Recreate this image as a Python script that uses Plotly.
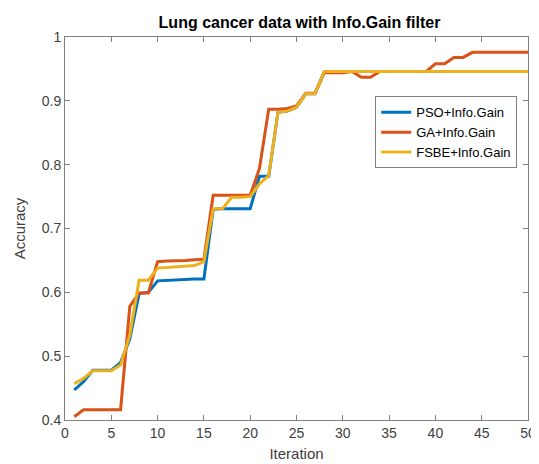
import plotly.graph_objects as go

iterations = list(range(1, 51))

pso = [0.447, 0.46, 0.478, 0.478, 0.478, 0.49, 0.527, 0.598, 0.6, 0.618,
       0.619, 0.619, 0.62, 0.621, 0.621, 0.73, 0.731, 0.731, 0.731, 0.731,
       0.782, 0.782, 0.882, 0.884, 0.89, 0.911, 0.911, 0.946, 0.946, 0.946] + [0.946] * 20

ga = [0.405, 0.416, 0.416, 0.416, 0.416, 0.416, 0.578, 0.599, 0.599, 0.648,
      0.649, 0.649, 0.65, 0.651, 0.652, 0.752, 0.752, 0.752, 0.752, 0.752,
      0.794, 0.887, 0.887, 0.888, 0.892, 0.912, 0.912, 0.944, 0.944, 0.944,
      0.946, 0.937, 0.937, 0.946, 0.946, 0.946, 0.946, 0.946, 0.946, 0.958,
      0.958, 0.968, 0.968, 0.976, 0.976, 0.976, 0.976, 0.976, 0.976, 0.976]

fsbe = [0.457, 0.465, 0.477, 0.477, 0.477, 0.486, 0.533, 0.619, 0.619, 0.638,
        0.639, 0.64, 0.641, 0.642, 0.648, 0.731, 0.731, 0.749, 0.749, 0.75,
        0.77, 0.783, 0.882, 0.884, 0.89, 0.911, 0.911, 0.946, 0.946, 0.946] + [0.946] * 20

series_names = ["PSO+Info.Gain", "GA+Info.Gain", "FSBE+Info.Gain"]
series_colors = ["#0072BD", "#D95319", "#EDB120"]

x_ticks = [0, 5, 10, 15, 20, 25, 30, 35, 40, 45, 50]
y_ticks = [0.4, 0.5, 0.6, 0.7, 0.8, 0.9, 1.0]
y_tick_text = ["0.4", "0.5", "0.6", "0.7", "0.8", "0.9", "1"]

fig = go.Figure()
for name, vals, col in zip(series_names, [pso, ga, fsbe], series_colors):
    fig.add_trace(go.Scatter(x=iterations, y=vals, mode="lines", name=name,
                             line=dict(color=col, width=3)))

font_family = "Liberation Sans, Arial, sans-serif"
axis_color = "#808080"
text_color = "#404040"
L, R, T, B = 55, 11, 29, 52

fig.update_layout(
    width=539, height=464,
    margin=dict(l=L, r=R, t=T, b=B),
    paper_bgcolor="white", plot_bgcolor="white",
    font=dict(family=font_family, size=14, color=text_color),
    title=dict(text="<b>Lung cancer data with Info.Gain filter</b>",
               x=(L + 539 - R) / 2 / 539, xanchor="center", y=1 - 14 / 464, yanchor="middle",
               font=dict(size=16, color="#000000")),
    legend=dict(x=0.67, y=0.845, xanchor="left", yanchor="top",
                bgcolor="white", bordercolor="#808080", borderwidth=1,
                font=dict(size=13, color="#000000"), tracegroupgap=0,
                itemwidth=30),
    showlegend=True,
)
fig.update_xaxes(range=[0, 50], tickvals=x_ticks, ticks="inside", ticklen=5,
                 tickcolor=axis_color, showline=True, linecolor=axis_color, linewidth=1,
                 mirror="ticks", showgrid=False, zeroline=False,
                 title=dict(text="Iteration", standoff=8, font=dict(size=15, color=text_color)),
                 tickfont=dict(size=14, color=text_color))
fig.update_yaxes(range=[0.4, 1.0], tickvals=y_ticks, ticktext=y_tick_text, ticks="inside",
                 ticklen=5, tickcolor=axis_color, showline=True, linecolor=axis_color,
                 linewidth=1, mirror="ticks", showgrid=False, zeroline=False,
                 title=dict(text="Accuracy", standoff=12, font=dict(size=15, color=text_color)),
                 tickfont=dict(size=14, color=text_color))

fig.write_html("out.html")
